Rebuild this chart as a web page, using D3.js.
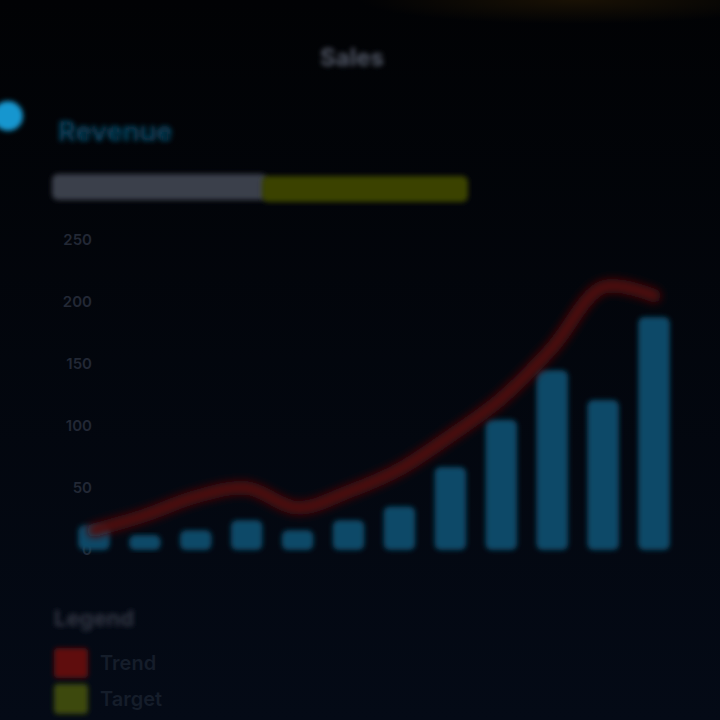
<!DOCTYPE html>
<html><head><meta charset="utf-8">
<script src="https://cdn.jsdelivr.net/npm/d3@7"></script>
<style>
html,body{margin:0;padding:0;background:#02050b;}
svg{display:block;}
</style></head>
<body>
<script>
const months = ["Jan","Feb","Mar","Apr","May","Jun","Jul","Aug","Sep","Oct","Nov","Dec"];
const barValues = [20, 12, 16, 24, 16, 24, 35, 67, 105, 145, 121, 188];
const lineValues = [16, 28, 43, 50, 34, 47, 65, 92, 122, 163, 212, 205];
const yTicks = [0, 50, 100, 150, 200, 250];
const legendLabels = ["Trend", "Target"];
const legendColors = ["#5e0b0c", "#3e4808"];

const W = 720, H = 720;
const svg = d3.select("body").append("svg").attr("width", W).attr("height", H);

const defs = svg.append("defs");
const bg = defs.append("linearGradient").attr("id","bg").attr("x1",0).attr("y1",0).attr("x2",0).attr("y2",1);
bg.append("stop").attr("offset","0%").attr("stop-color","#010204");
bg.append("stop").attr("offset","100%").attr("stop-color","#040a16");
const glow = defs.append("radialGradient").attr("id","glow").attr("cx","0.6").attr("cy","0").attr("r","0.6");
glow.append("stop").attr("offset","0%").attr("stop-color","#191104");
glow.append("stop").attr("offset","100%").attr("stop-color","#191104").attr("stop-opacity",0);
const soft = defs.append("filter").attr("id","soft").attr("x","-20%").attr("y","-20%").attr("width","140%").attr("height","140%");
soft.append("feGaussianBlur").attr("stdDeviation",2.5);
const softer = defs.append("filter").attr("id","softer").attr("x","-20%").attr("y","-30%").attr("width","140%").attr("height","160%");
softer.append("feGaussianBlur").attr("stdDeviation",4);

svg.append("rect").attr("width",W).attr("height",H).attr("fill","url(#bg)");
svg.append("rect").attr("x",360).attr("y",0).attr("width",360).attr("height",40).attr("fill","url(#glow)");

// Title
svg.append("text").attr("x",352).attr("y",66).attr("text-anchor","middle")
  .attr("font-family","Inter, sans-serif").attr("font-size",24).attr("font-weight",700)
  .attr("fill","#4f5563").attr("filter","url(#soft)").text("Sales");

// Header icon + heading
svg.append("circle").attr("cx",8).attr("cy",116).attr("r",15).attr("fill","#1596cf").attr("filter","url(#soft)");
svg.append("text").attr("x",58).attr("y",141)
  .attr("font-family","Inter, sans-serif").attr("font-size",27).attr("font-weight",700)
  .attr("fill","#0c4a68").attr("filter","url(#soft)").text("Revenue");

// Subtitle bar (two segments)
svg.append("rect").attr("x",52).attr("y",174).attr("width",215).attr("height",26).attr("rx",6)
  .attr("fill","#3a3f4b").attr("filter","url(#soft)");
svg.append("rect").attr("x",262).attr("y",176).attr("width",206).attr("height",26).attr("rx",6)
  .attr("fill","#3a4304").attr("filter","url(#soft)");

// Chart
const x = d3.scaleBand().domain(months).range([68, 680]).paddingInner(0.38).paddingOuter(0.2);
const y = d3.scaleLinear().domain([0, 250]).range([550, 240]);

const yAxis = svg.append("g").attr("transform","translate(100,0)")
  .call(d3.axisLeft(y).tickValues(yTicks).tickSize(0).tickPadding(8));
yAxis.select(".domain").remove();
yAxis.selectAll("text").attr("font-family","Inter, sans-serif").attr("font-size",15)
  .attr("font-weight",600).attr("fill","#222835");

svg.append("line").attr("x1",70).attr("x2",685).attr("y1",y(0)+4).attr("y2",y(0)+4)
  .attr("stroke","#0b1424").attr("stroke-width",6).attr("filter","url(#soft)");

svg.append("g").selectAll("rect").data(months).join("rect")
  .attr("x", d => x(d))
  .attr("y", (d,i) => y(barValues[i]))
  .attr("width", x.bandwidth())
  .attr("height", (d,i) => y(0) - y(barValues[i]))
  .attr("rx", 6)
  .attr("fill", "#0d4a68")
  .attr("filter","url(#soft)");

const line = d3.line()
  .x((d,i) => x(months[i]) + x.bandwidth()/2)
  .y(d => y(d))
  .curve(d3.curveCatmullRom.alpha(0.5));
svg.append("path").datum(lineValues).attr("d", line)
  .attr("fill","none").attr("stroke","#4e080a").attr("stroke-width",14)
  .attr("stroke-linecap","round").attr("filter","url(#softer)");

// Legend
svg.append("text").attr("x",54).attr("y",626)
  .attr("font-family","Inter, sans-serif").attr("font-size",22).attr("font-weight",700)
  .attr("fill","#303643").attr("filter","url(#soft)").text("Legend");
const lg = svg.append("g").selectAll("g").data(legendLabels).join("g")
  .attr("transform",(d,i) => `translate(54,${648 + i*36})`);
lg.append("rect").attr("width",34).attr("height",30).attr("rx",4)
  .attr("fill",(d,i) => legendColors[i]).attr("filter","url(#soft)");
lg.append("text").attr("x",46).attr("y",22)
  .attr("font-family","Inter, sans-serif").attr("font-size",20).attr("font-weight",600)
  .attr("fill","#151d2a").text(d => d);
</script>
</body></html>
